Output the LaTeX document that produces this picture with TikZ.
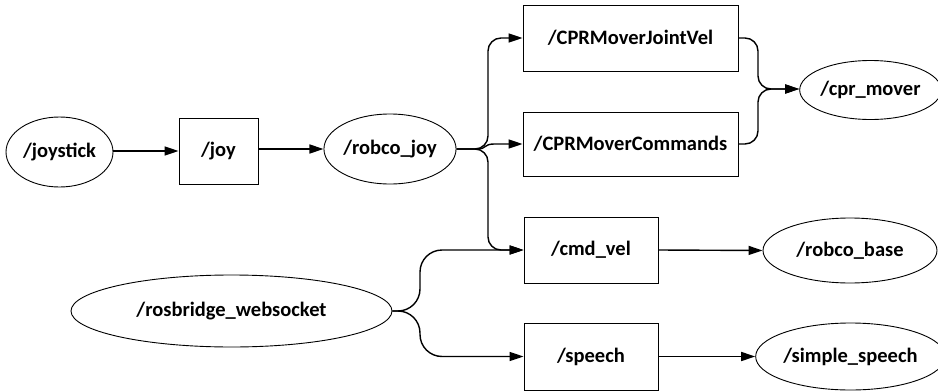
\documentclass[tikz,border=0pt]{standalone}
\usepackage{fontspec}
\setmainfont{Carlito}
\usetikzlibrary{shapes.geometric,arrows.meta}
\begin{document}
\begin{tikzpicture}[x=1pt,y=-1pt,
  lbl/.style={font=\fontsize{20.5}{24}\selectfont\bfseries, inner sep=0pt},
  ell/.style={lbl, draw, ellipse, line width=0.9pt},
  box/.style={lbl, draw, rectangle, line width=0.9pt},
  conn/.style={line width=1.4pt, -{Triangle[length=14pt,width=9pt]}},
  rc/.style={rounded corners=13pt},
  rcb/.style={rounded corners=22pt}
]
\useasboundingbox (0,0) rectangle (938,391);
\node[ell, minimum width=107pt, minimum height=70pt] (joystick) at (59.5,152) {/joystick};
\node[box, minimum width=79pt, minimum height=66pt] (joy) at (218.5,151) {/joy};
\node[ell, minimum width=130pt, minimum height=70pt] (robcojoy) at (390,149) {/robco\_joy};
\node[box, minimum width=215pt, minimum height=66pt] (jointvel) at (630.5,38) {/CPRMoverJointVel};
\node[box, minimum width=215pt, minimum height=64pt] (commands) at (630.5,144) {/CPRMoverCommands};
\node[ell, minimum width=131pt, minimum height=59pt] (cprmover) at (870.5,90) {/cpr\_mover};
\node[box, minimum width=134pt, minimum height=66pt] (cmdvel) at (591,250) {/cmd\_vel};
\node[box, minimum width=134pt, minimum height=67pt] (speech) at (591,356.5) {/speech};
\node[ell, minimum width=174pt, minimum height=65pt] (robcobase) at (850,250.5) {/robco\_base};
\node[ell, minimum width=173pt, minimum height=67pt] (simplespeech) at (850.5,356.5) {/simple\_speech};
\node[ell, minimum width=321pt, minimum height=72pt] (rosbridge) at (231.5,311) {/rosbridge\_websocket};

\coordinate (bj) at (488,149);
\coordinate (bm) at (758,89);
\coordinate (br) at (420,311);

\draw[conn] (joystick.east |- joy.west) -- (joy.west);
\draw[conn] (joy.east |- robcojoy.west) -- (robcojoy.west);

\draw[conn,rc] (robcojoy.east) -- (bj) -- (bj |- jointvel.west) -- (jointvel.west);
\draw[conn] (robcojoy.east) -- (478,149) .. controls (486,149) and (484,144) .. (494,144) -- (commands.west);
\draw[conn,rc] (robcojoy.east) -- (bj) -- (bj |- cmdvel.west) -- (cmdvel.west);

\draw[conn,rc] (jointvel.east) -- (bm |- jointvel.east) -- (bm) -- (cprmover.west |- bm);
\draw[conn,rc] (commands.east) -- (bm |- commands.east) -- (bm) -- (cprmover.west |- bm);

\draw[conn] (cmdvel.east) -- (robcobase.west);
\draw[conn] (speech.east) -- (simplespeech.west);

\draw[conn,rcb] (rosbridge.east) -- (br) -- (br |- cmdvel.west) -- (cmdvel.west);
\draw[conn,rcb] (rosbridge.east) -- (br) -- (br |- speech.west) -- (speech.west);
\end{tikzpicture}
\end{document}
